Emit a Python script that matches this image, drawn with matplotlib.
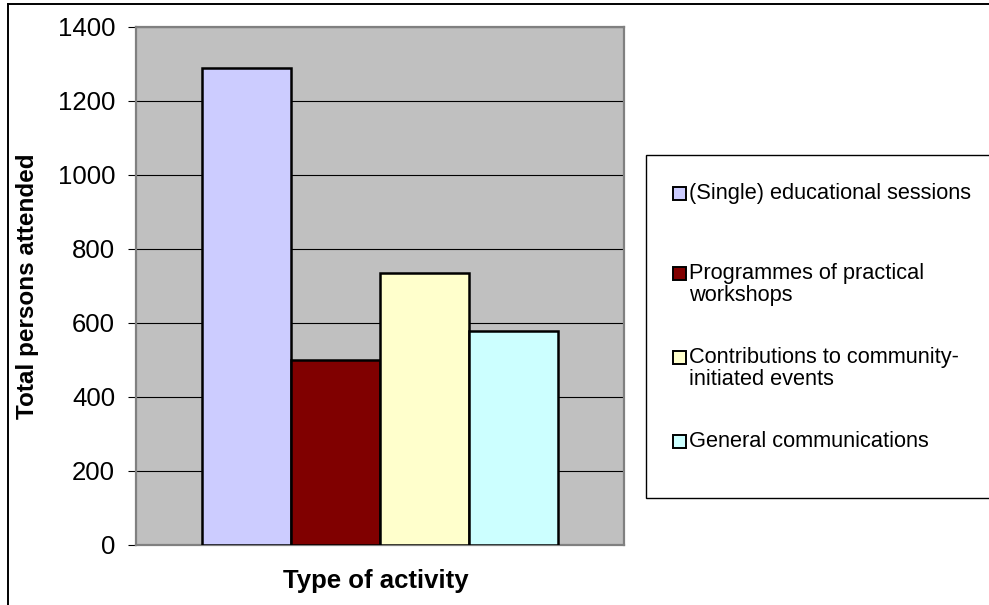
import matplotlib
matplotlib.use("Agg")
import matplotlib.pyplot as plt
from matplotlib.patches import Rectangle
from matplotlib.lines import Line2D

plt.rcParams['font.family'] = ['Liberation Sans', 'DejaVu Sans']

# Attendance by type of activity
activities = [
    "(Single) educational sessions",
    "Programmes of practical\nworkshops",
    "Contributions to community-\ninitiated events",
    "General communications",
]
attended = [1290, 500, 735, 578]
colors = ["#CCCCFF", "#800000", "#FFFFCC", "#CCFFFF"]
yticks = [0, 200, 400, 600, 800, 1000, 1200, 1400]

W, H = 989, 605
fig = plt.figure(figsize=(W / 100, H / 100), dpi=100)

# plot area in pixel bounds
L, R, T, B = 136, 624, 27, 545
ax = fig.add_axes([L / W, 1 - B / H, (R - L) / W, (B - T) / H])
ax.set_facecolor("#C0C0C0")

n = len(attended)
bar_w = 89 / (R - L)
for i, (v, c) in enumerate(zip(attended, colors)):
    x = 0.5 + (i - (n - 1) / 2) * bar_w
    ax.bar(x, v, width=bar_w, color=c, edgecolor="black", linewidth=1.8, zorder=3)

ax.set_xlim(0, 1)
ax.set_ylim(0, 1400)
ax.set_yticks(yticks)
ax.set_yticklabels([str(t) for t in yticks], fontsize=18.5)
ax.set_xticks([])
ax.yaxis.grid(True, color="black", linewidth=0.8, zorder=1)
ax.set_axisbelow(True)
ax.tick_params(axis="y", direction="out", length=6, width=0.8, color="black", pad=9)
for s in ax.spines.values():
    s.set_color("#808080")
    s.set_linewidth(1.6)

fig.text(28 / W, 1 - 286 / H, "Total persons attended", rotation=90,
         ha="center", va="center", fontsize=17.5, fontweight="bold")
fig.text(376 / W, 1 - 588 / H, "Type of activity", ha="center", va="baseline",
         fontsize=18.5, fontweight="bold")

# outer chart frame (top and left edges visible)
fig.add_artist(Line2D([8 / W, 1.01], [1 - 4 / H, 1 - 4 / H], color="black",
                      linewidth=1.4, transform=fig.transFigure))
fig.add_artist(Line2D([8 / W, 8 / W], [1 - 4 / H, -0.01], color="black",
                      linewidth=1.4, transform=fig.transFigure))

# legend box
lx0, ly0, ly1 = 646, 155, 498
fig.add_artist(Rectangle((lx0 / W, 1 - ly1 / H), (1000 - lx0) / W, (ly1 - ly0) / H,
                         transform=fig.transFigure, facecolor="white",
                         edgecolor="black", linewidth=1.0, clip_on=False))
first_baselines = [199, 279, 363, 447]
line_gap = 22
for lab, c, yb in zip(activities, colors, first_baselines):
    sq = 13
    fig.add_artist(Rectangle((673 / W, 1 - (yb + 0.5) / H), sq / W, sq / H,
                             transform=fig.transFigure, facecolor=c,
                             edgecolor="black", linewidth=1.4))
    for k, line in enumerate(lab.split("\n")):
        fig.text(689 / W, 1 - (yb + k * line_gap) / H, line, ha="left",
                 va="baseline", fontsize=15.7)

fig.savefig("out.png", dpi=100)
